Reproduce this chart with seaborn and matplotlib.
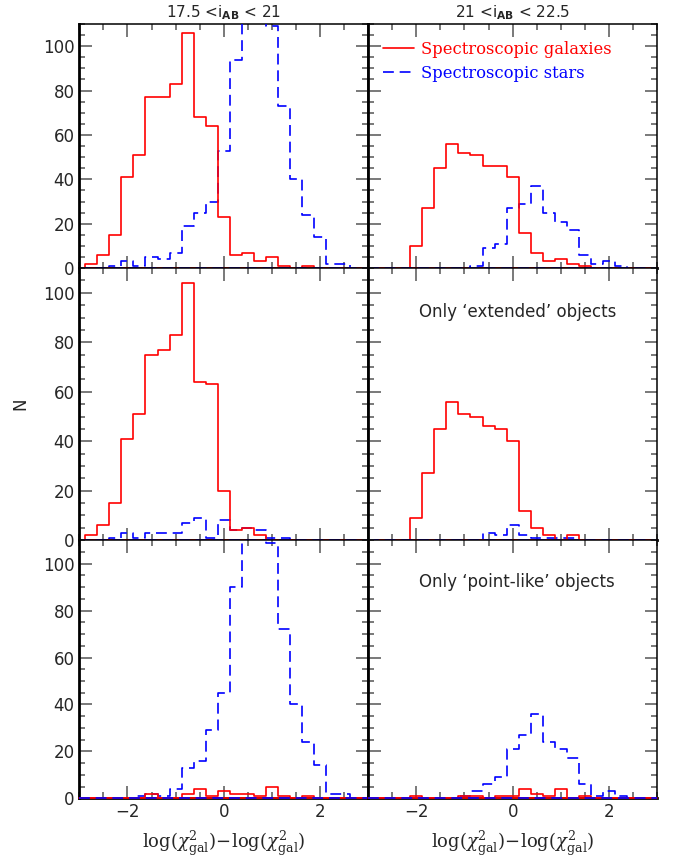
import numpy as np
import pandas as pd
import matplotlib
matplotlib.use("Agg")
import matplotlib.pyplot as plt
from matplotlib.ticker import MultipleLocator
import seaborn as sns

# Histogram bins: width 0.25, centred on -3.0 ... 3.0
bin_centers = np.round(np.arange(-3.0, 3.0001, 0.25), 2)
bin_width = 0.25
bin_range = (-3.125, 3.125)

# Counts per bin (25 bins, from -3.0 to 3.0)
# Row 1: all objects
gal_bright_all = [0, 2, 6, 15, 41, 51, 77, 77, 83, 106, 68, 64, 23, 6, 7, 3, 5, 1, 0, 1, 0, 0, 0, 0, 0]
star_bright_all = [0, 0, 0, 1, 3, 1, 5, 4, 7, 19, 25, 30, 53, 94, 128, 124, 109, 73, 40, 24, 14, 2, 2, 0, 0]
gal_faint_all = [0, 0, 0, 0, 10, 27, 45, 56, 52, 51, 46, 46, 41, 16, 7, 3, 4, 2, 1, 0, 0, 0, 0, 0, 0]
star_faint_all = [0, 0, 0, 0, 0, 0, 0, 0, 0, 1, 9, 11, 27, 29, 37, 25, 21, 17, 6, 2, 3, 1, 0, 0, 0]

# Row 2: only 'extended' objects
gal_bright_ext = [0, 2, 6, 15, 41, 51, 75, 77, 83, 104, 64, 63, 20, 4, 5, 2, 0, 0, 0, 0, 0, 0, 0, 0, 0]
star_bright_ext = [0, 0, 0, 1, 3, 1, 3, 3, 3, 7, 9, 1, 8, 4, 5, 4, 1, 1, 0, 0, 0, 0, 0, 0, 0]
gal_faint_ext = [0, 0, 0, 0, 9, 27, 45, 56, 51, 50, 46, 45, 40, 12, 5, 2, 0, 2, 0, 0, 0, 0, 0, 0, 0]
star_faint_ext = [0, 0, 0, 0, 0, 0, 0, 0, 0, 0, 3, 2, 6, 2, 1, 1, 1, 1, 0, 0, 0, 0, 0, 0, 0]

# Row 3: only 'point-like' objects
gal_bright_pt = [0, 0, 0, 0, 0, 0, 2, 0, 0, 2, 4, 1, 3, 2, 2, 1, 5, 1, 0, 1, 0, 0, 0, 0, 0]
star_bright_pt = [0, 0, 0, 0, 0, 1, 2, 1, 4, 13, 16, 29, 45, 90, 123, 120, 109, 72, 40, 24, 14, 2, 2, 0, 0]
gal_faint_pt = [0, 0, 0, 0, 1, 0, 0, 0, 1, 1, 0, 1, 1, 4, 2, 1, 4, 0, 1, 0, 0, 0, 0, 0, 0]
star_faint_pt = [0, 0, 0, 0, 0, 0, 0, 0, 1, 3, 6, 9, 21, 27, 36, 24, 21, 17, 6, 1, 3, 1, 0, 0, 0]

panels = [
    [(gal_bright_all, star_bright_all), (gal_faint_all, star_faint_all)],
    [(gal_bright_ext, star_bright_ext), (gal_faint_ext, star_faint_ext)],
    [(gal_bright_pt, star_bright_pt), (gal_faint_pt, star_faint_pt)],
]

col_titles = [r"17.5 <i$_{\mathbf{AB}}$ < 21", r"21 <i$_{\mathbf{AB}}$ < 22.5"]
panel_notes = {(1, 1): "Only \u2018extended\u2019 objects", (2, 1): "Only \u2018point\u2010like\u2019 objects"}
x_label = r"$\log(\chi^2_{\rm gal})\!-\!\log(\chi^2_{\rm gal})$"
y_label = "N"
gal_label = "Spectroscopic galaxies"
star_label = "Spectroscopic stars"

sns.set_style("ticks")
plt.rcParams["font.family"] = ["DejaVu Sans"]
plt.rcParams["xtick.direction"] = "in"
plt.rcParams["ytick.direction"] = "in"

fig = plt.figure(figsize=(6.76, 8.61), dpi=100)
gs = fig.add_gridspec(3, 2, left=0.1173, right=0.972, top=0.9721, bottom=0.0728,
                      height_ratios=[244, 272, 258], hspace=0, wspace=0)

RED = "#ff0000"
BLUE = "#0000ff"
STAR_DASH = (0, (6.5, 3.5))


def draw_hist(ax, counts, color, label, **kws):
    df = pd.DataFrame({"x": bin_centers, "n": counts})
    sns.histplot(data=df, x="x", weights="n", binwidth=bin_width, binrange=bin_range,
                 element="step", fill=False, color=color, ax=ax, label=label, **kws)


for r in range(3):
    for c in range(2):
        ax = fig.add_subplot(gs[r, c])
        gal, star = panels[r][c]
        draw_hist(ax, star, BLUE, star_label, linewidth=1.2,
                  linestyle=STAR_DASH, zorder=3)
        draw_hist(ax, gal, RED, gal_label, linewidth=1.2, zorder=4)
        # zero level of both histograms, drawn over the bottom frame
        ax.axhline(0, color=RED, linewidth=1.2, zorder=5, clip_on=False)
        ax.axhline(0, color=BLUE, linewidth=1.2, linestyle=STAR_DASH, zorder=6, clip_on=False)
        ax.set_xlim(-3, 3)
        ax.set_ylim(0, 110)
        ax.xaxis.set_major_locator(MultipleLocator(2))
        ax.xaxis.set_minor_locator(MultipleLocator(0.5))
        ax.yaxis.set_major_locator(MultipleLocator(20))
        ax.yaxis.set_minor_locator(MultipleLocator(5))
        ax.tick_params(which="both", top=True, right=True, direction="in",
                       labelsize=12, color="#555555", width=1.1)
        ax.tick_params(which="major", length=9)
        ax.tick_params(which="minor", length=4.5)
        for side in ["top", "right"]:
            ax.spines[side].set_linewidth(1.1)
        for side in ["left", "bottom"]:
            ax.spines[side].set_linewidth(2.0)
        for sp in ax.spines.values():
            sp.set_color("black")
        ax.set_xlabel("")
        ax.set_ylabel("")
        if c == 1:
            ax.tick_params(labelleft=False)
        if r < 2:
            ax.tick_params(labelbottom=False)
        else:
            ax.set_xlabel(x_label, fontsize=13, math_fontfamily="dejavuserif", labelpad=5)
        if r == 0:
            ax.set_title(col_titles[c], fontsize=11, pad=5)
        if r == 1 and c == 0:
            ax.set_ylabel(y_label, fontsize=12, labelpad=10)
        if (r, c) in panel_notes:
            ax.text(0.175, 0.84, panel_notes[(r, c)], transform=ax.transAxes,
                    fontsize=12, ha="left", va="center")
        if r == 0 and c == 1:
            handles, labels = ax.get_legend_handles_labels()
            order = [labels.index(gal_label), labels.index(star_label)]
            leg = ax.legend([handles[i] for i in order], [labels[i] for i in order],
                            loc="upper left", bbox_to_anchor=(0.0, 0.99), frameon=False,
                            prop={"family": "DejaVu Serif", "size": 11.8},
                            handlelength=1.9, handletextpad=0.45, labelspacing=0.4)
            for txt, col in zip(leg.get_texts(), [RED, BLUE]):
                txt.set_color(col)
        if c == 0:
            ax.set_yticks([0, 20, 40, 60, 80, 100])

fig.savefig("out.png", dpi=100)
